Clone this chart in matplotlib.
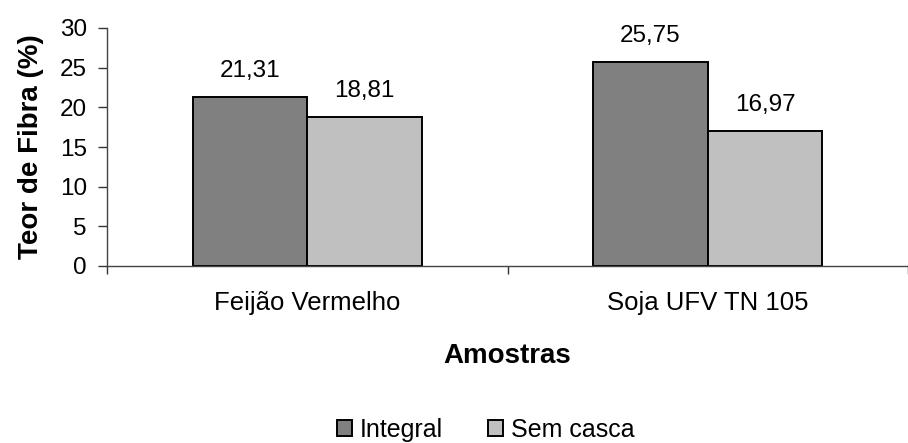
import matplotlib
matplotlib.use("Agg")
import matplotlib.pyplot as plt
import numpy as np

plt.rcParams['font.family'] = ['Liberation Sans', 'DejaVu Sans']

categories = ["Feijão Vermelho", "Soja UFV TN 105"]
integral = [21.31, 25.75]
sem_casca = [18.81, 16.97]
series_names = ["Integral", "Sem casca"]
yticks = [0, 5, 10, 15, 20, 25, 30]

fig = plt.figure(figsize=(9.08, 4.43), dpi=100)
W, H = 908, 443
ax = fig.add_axes([107 / W, 1 - 266 / H, 1 - 107 / W, 238 / H])

x = np.arange(len(categories))
w = 0.286
b1 = ax.bar(x - w / 2, integral, w, color="#808080", edgecolor="black", linewidth=1.4, label=series_names[0])
b2 = ax.bar(x + w / 2, sem_casca, w, color="#c0c0c0", edgecolor="black", linewidth=1.4, label=series_names[1])

for bars, vals in ((b1, integral), (b2, sem_casca)):
    for rect, v in zip(bars, vals):
        ax.annotate(f"{v:.2f}".replace(".", ","),
                    (rect.get_x() + rect.get_width() / 2, v),
                    xytext=(0, 14.4), textcoords="offset points",
                    ha="center", va="baseline", fontsize=17.5)

ax.set_xlim(-0.5, 1.477)
ax.set_ylim(0, 30)
ax.set_yticks(yticks)
ax.set_yticklabels([str(t) for t in yticks], fontsize=17.5)

ax.set_xticks([-0.5, 0.5, 1.5])
ax.set_xticklabels([])
ax.set_xticks(x, minor=True)
ax.set_xticklabels(categories, minor=True, fontsize=18.5)
ax.tick_params(axis="x", which="minor", length=0, pad=18)
ax.tick_params(axis="x", which="major", length=6, color="#333333", width=1)
ax.tick_params(axis="y", length=6.5, color="#333333", width=1, pad=8)

for s in ("top", "right"):
    ax.spines[s].set_visible(False)
for s in ("left", "bottom"):
    ax.spines[s].set_color("#444444")
    ax.spines[s].set_linewidth(1)

ax.set_ylabel("Teor de Fibra (%)", fontsize=20, fontweight="bold", labelpad=11)
ax.set_xlabel("Amostras", fontsize=20, fontweight="bold", labelpad=20.5)

leg = fig.legend(handles=[b1, b2], labels=series_names, loc="center",
                 bbox_to_anchor=(485.5 / W, 1 - 430 / H), ncol=2, frameon=False,
                 fontsize=18, handlelength=0.6, handleheight=0.6,
                 handletextpad=0.32, columnspacing=1.8)

fig.savefig("out.png", dpi=100)
